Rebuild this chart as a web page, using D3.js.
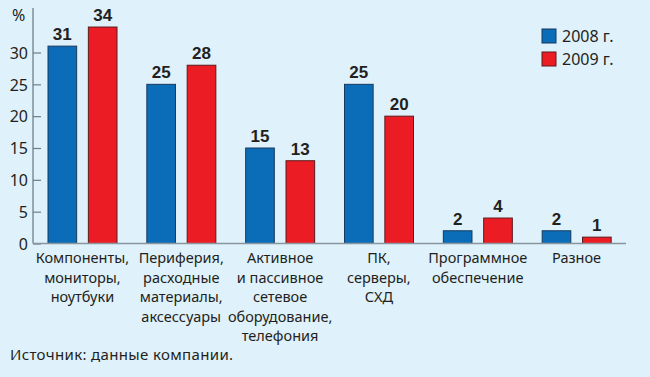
<!DOCTYPE html>
<html>
<head>
<meta charset="utf-8">
<script src="https://cdn.jsdelivr.net/npm/d3@7"></script>
<style>
  html, body { margin: 0; padding: 0; background: #dff1fb; }
  svg { display: block; font-family: "Noto Sans", sans-serif; }
  .tick text, .cat, .legend text, .note { fill: #231f20; }
</style>
</head>
<body>
<svg id="chart"></svg>
<script>
"use strict";

var svg_width = 650;
var svg_height = 377;

// data
var categories = [
    ["Компоненты,", "мониторы,", "ноутбуки"],
    ["Периферия,", "расходные", "материалы,", "аксессуары"],
    ["Активное", "и пассивное", "сетевое", "оборудование,", "телефония"],
    ["ПК,", "серверы,", "СХД"],
    ["Программное", "обеспечение"],
    ["Разное"]
];
var series = ["2008 г.", "2009 г."];
var values2008 = [31, 25, 15, 25, 2, 2];
var values2009 = [34, 28, 13, 20, 4, 1];
var yTicks = [0, 5, 10, 15, 20, 25, 30];
var colors = ["#0b6db7", "#ec1c24"];
var strokes = ["#173a5e", "#5b1a1c"];

var data = categories.map(function(c, i) {
    return {idx: i, lines: c, vals: [values2008[i], values2009[i]]};
});

var svg = d3.select("#chart")
    .attr("width", svg_width)
    .attr("height", svg_height);

var x0 = d3.scaleBand()
    .domain(d3.range(categories.length))
    .range([33, 626])
    .paddingInner(0);
var x1 = d3.scaleBand()
    .domain(d3.range(series.length))
    .range([15, 84])
    .paddingInner(0.29);
var yScale = d3.scaleLinear()
    .domain([0, 30])
    .range([243.5, 52.5]);

// Y axis
var yAxis = svg.append("g")
    .attr("class", "axis axis--y")
    .attr("transform", "translate(33,0)")
    .call(d3.axisLeft(yScale).tickValues(yTicks).tickSizeInner(-8).tickSizeOuter(0).tickPadding(5));
yAxis.select(".domain").remove();
yAxis.selectAll(".tick line").attr("stroke", "#6f7f8a").attr("stroke-width", 1.2);
yAxis.selectAll(".tick text")
    .attr("font-size", 16)
    .attr("font-family", "Noto Sans")
    .attr("dy", "0.36em");

svg.append("line")
    .attr("x1", 33).attr("x2", 33)
    .attr("y1", 8).attr("y2", yScale(0))
    .attr("stroke", "#6f7f8a").attr("stroke-width", 1.3);

svg.append("text")
    .attr("x", 12).attr("y", 21)
    .attr("font-size", 16)
    .attr("fill", "#231f20")
    .text("%");

// bars
var groups = svg.selectAll(".group")
    .data(data)
    .enter().append("g")
    .attr("class", "group")
    .attr("transform", function(d) {return "translate(" + x0(d.idx) + ",0)";});

groups.selectAll("rect")
    .data(function(d) {return d.vals.map(function(v, k) {return {k: k, v: v};});})
    .enter().append("rect")
    .attr("x", function(d) {return x1(d.k);})
    .attr("width", x1.bandwidth())
    .attr("y", function(d) {return yScale(d.v);})
    .attr("height", function(d) {return yScale(0) - yScale(d.v);})
    .attr("fill", function(d) {return colors[d.k];})
    .attr("stroke", function(d) {return strokes[d.k];})
    .attr("stroke-width", 1);

groups.selectAll(".val")
    .data(function(d) {return d.vals.map(function(v, k) {return {k: k, v: v};});})
    .enter().append("text")
    .attr("class", "val")
    .attr("text-anchor", "middle")
    .attr("x", function(d) {return x1(d.k) + x1.bandwidth() / 2;})
    .attr("y", function(d) {return yScale(d.v) - 6;})
    .attr("font-family", "Liberation Sans, Arial, sans-serif")
    .attr("font-weight", "bold")
    .attr("font-size", 17)
    .attr("fill", "#231f20")
    .text(function(d) {return d.v;});

// baseline
svg.append("line")
    .attr("x1", 33).attr("x2", 626)
    .attr("y1", yScale(0)).attr("y2", yScale(0))
    .attr("stroke", "#8a969e").attr("stroke-width", 1.5);

// category labels
groups.each(function(d) {
    var t = d3.select(this).append("text")
        .attr("class", "cat")
        .attr("text-anchor", "middle")
        .attr("font-size", 14.5)
        .attr("x", x0.bandwidth() / 2)
        .attr("y", 263);
    t.selectAll("tspan")
        .data(d.lines)
        .enter().append("tspan")
        .attr("x", x0.bandwidth() / 2)
        .attr("dy", function(s, i) {return i === 0 ? 0 : 19.5;})
        .text(function(s) {return s;});
});

// legend
var legend = svg.append("g")
    .attr("class", "legend")
    .attr("transform", "translate(542,29)");
var li = legend.selectAll("g")
    .data(series)
    .enter().append("g")
    .attr("transform", function(d, i) {return "translate(0," + (i * 23) + ")";});
li.append("rect")
    .attr("width", 14).attr("height", 14)
    .attr("fill", function(d, i) {return colors[i];})
    .attr("stroke", function(d, i) {return strokes[i];});
li.append("text")
    .attr("x", 20).attr("y", 12.5)
    .attr("font-size", 16)
    .text(function(d) {return d;});

svg.append("text")
    .attr("class", "note")
    .attr("x", 10).attr("y", 360)
    .attr("font-size", 15)
    .attr("letter-spacing", 0.35)
    .text("Источник: данные компании.");
</script>
</body>
</html>
